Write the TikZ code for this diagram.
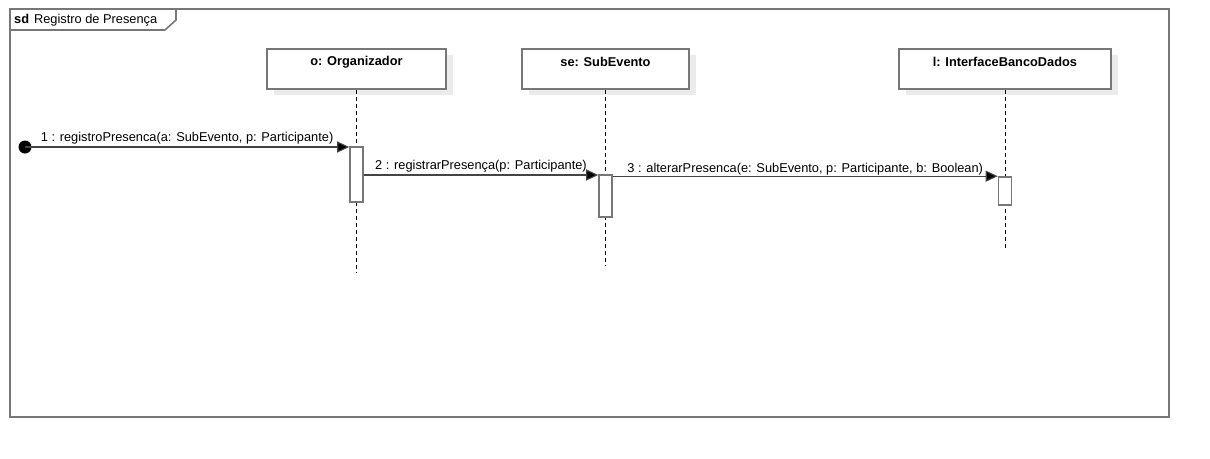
\documentclass[tikz,border=0pt]{standalone}
\usepackage{fontspec}
\setmainfont{Liberation Sans}
\usetikzlibrary{arrows.meta,shadows}
\definecolor{bordergray}{HTML}{777777}
\definecolor{linegray}{HTML}{444444}
\definecolor{shadowgray}{HTML}{EBEBEB}
\tikzset{
  every node/.style={font=\fontsize{12.8}{15}\selectfont, text=black},
  head/.style={draw=bordergray, line width=1.6pt, fill=white, rectangle, inner sep=0pt,
    general shadow={fill=shadowgray, shadow xshift=7pt, shadow yshift=-6pt}},
  headlabel/.style={font=\fontsize{12.8}{15}\selectfont\bfseries, inner sep=0pt},
  lifeline/.style={draw=black, line width=0.8pt, dash pattern=on 4pt off 3pt},
  activation/.style={draw=bordergray, line width=1.6pt, fill=white, rectangle, inner sep=0pt, minimum width=13pt},
  msg/.style={draw=linegray, line width=1.1pt, -{Triangle[length=12pt,width=11pt,fill=black]}},
  msglabel/.style={above, inner sep=2pt},
  framebox/.style={draw=bordergray, line width=1.6pt},
}
\begin{document}
\begin{tikzpicture}[x=1pt,y=-1pt]
\useasboundingbox[fill=white] (0,0) rectangle (1210,458);
% frame
\draw[framebox] (10,9) rectangle (1169,417);
\draw[framebox] (10,30) -- (165,30) -- (176,20) -- (176,9);
\node[anchor=west, inner sep=0pt] (title) at (14,20) {\textbf{sd}\hspace{5pt}Registro de Presença};

% lifeline heads
\node[head, minimum width=179pt, minimum height=40pt] (o) at (356.5,69) {};
\node[headlabel] (olab) at (356.5,62) {o: Organizador};
\node[head, minimum width=167pt, minimum height=40pt] (se) at (605.5,69) {};
\node[headlabel] (selab) at (605.5,62) {se: SubEvento};
\node[head, minimum width=212pt, minimum height=40pt] (l) at (1005,69) {};
\node[headlabel] (llab) at (1005,62) {l: InterfaceBancoDados};

% lifeline ends
\coordinate (oend) at (356.5,272);
\coordinate (seend) at (605.5,266);
\coordinate (lend) at (1005,250);
\draw[lifeline] (o.south) -- (oend);
\draw[lifeline] (se.south) -- (seend);
\draw[lifeline] (l.south) -- (lend);

% activations
\node[activation, minimum height=55pt] (oact) at (356.5,174.5) {};
\node[activation, minimum height=42pt] (seact) at (605.5,196) {};
\node[activation, minimum height=28pt] (lact) at (1005,191) {};

% start
\node[circle, fill=black, minimum size=13pt, inner sep=0pt] (start) at (25,147) {};

% messages
\coordinate (m1end) at (oact.west |- start);
\draw[msg] (start.center) -- node[msglabel] (m1) {1 : registroPresenca(a: SubEvento, p: Participante)} (m1end);
\coordinate (m2a) at (oact.east |- 0,175);
\coordinate (m2b) at (seact.west |- 0,175);
\draw[msg] (m2a) -- node[msglabel] (m2) {2 : registrarPresença(p: Participante)} (m2b);
\coordinate (m3a) at (seact.east |- lact.north);
\coordinate (m3b) at (lact.north west);
\draw[msg] (m3a) -- node[msglabel, yshift=-2pt] (m3) {3 : alterarPresenca(e: SubEvento, p: Participante, b: Boolean)} (m3b);
\end{tikzpicture}
\end{document}
